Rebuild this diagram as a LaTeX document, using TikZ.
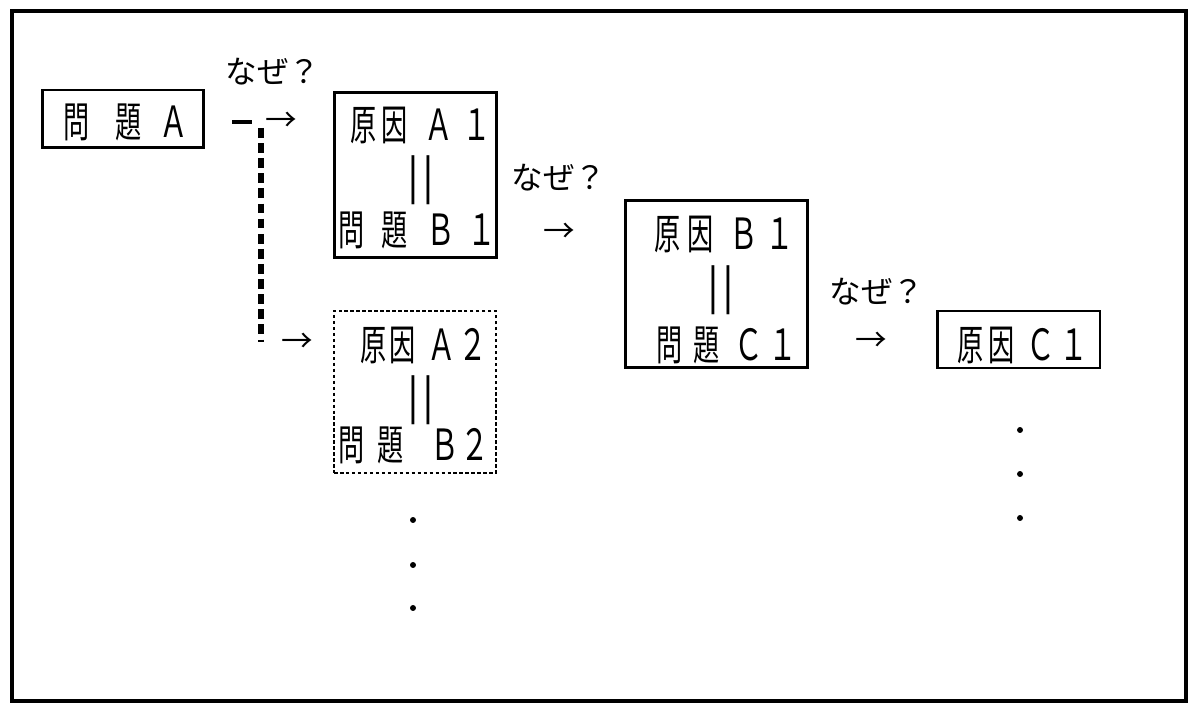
\documentclass[tikz,border=0pt]{standalone}
\usepackage{fontspec}
\usepackage{graphicx}
\newfontfamily\jpfont{Noto Sans CJK JP}

\newcommand\jl[1]{{\jpfont\fontsize{24}{24}\selectfont\scalebox{0.62}[1]{#1}}}
\newcommand\jn[1]{{\jpfont\fontsize{18}{18}\selectfont #1}}
\newcommand\g[1]{\hspace{#1em}}
\newcommand\wch[1]{\scalebox{1.1}[1.02]{#1}}
\newcommand\eqv{{\jpfont\fontsize{25}{25}\selectfont |\hspace{.06em}|}}

\begin{document}
\begin{tikzpicture}[x=0.02cm, y=-0.02cm,
    box/.style={draw, line width=1.7pt, inner sep=0},
    dotbox/.style={draw, line width=0.9pt, dash pattern=on 2pt off 1.4pt, inner sep=0},
    txt/.style={inner sep=0}]
    	\useasboundingbox (0,0) rectangle (1200,719);
    	% frame
    	\draw [line width=2.3pt] (12,11) rectangle (1186,701);

    	% problem A
    	\node[box, minimum width=3.24cm, minimum height=1.16cm] (pa) at (123,119) {};
    	\node[txt, anchor=base] (pat) at (126,138) {\jl{問\g{.98}題\g{.7}\wch{Ａ}}};

    	% why ? and the two arrows out of A
    	\node[txt] (naze1) at (273,72) {\jn{なぜ？}};
    	\coordinate (da) at (232,122);
    	\coordinate (db) at (252,122);
    	\draw [line width=2.6pt] (da) -- (db);
    	\node[txt] (ar1) at (281,122) {\jn{→}};
    	\coordinate (dc) at (261,128);
    	\coordinate (dd) at (261,342);
    	\draw [line width=3pt, dash pattern=on 5.6pt off 3pt] (dc) -- (dd);
    	\node[txt] (ar2) at (297,343) {\jn{→}};

    	% cause A1 = problem B1
    	\node[box, minimum width=3.26cm, minimum height=3.32cm] (a1) at (415.5,175) {};
    	\node[txt, anchor=base] (a1t) at (421,141) {\jl{原\g{.18}因\g{.65}\wch{Ａ}\g{.33}\wch{１}}};
    	\node[txt] (a1e) at (421,180) {\eqv};
    	\node[txt, anchor=base] (a1b) at (417,246) {\jl{問\g{.66}題\g{.7}\wch{Ｂ}\g{.47}\wch{１}}};

    	% cause A2 = problem B2 (dotted)
    	\node[dotbox, minimum width=3.24cm, minimum height=3.24cm] (a2) at (415,392) {};
    	\node[txt, anchor=base] (a2t) at (424,361) {\jl{原\g{.11}因\g{.44}\wch{Ａ}\g{.08}\wch{２}}};
    	\node[txt] (a2e) at (421,400) {\eqv};
    	\node[txt, anchor=base] (a2b) at (414,460) {\jl{問\g{.49}題\g{1}\wch{Ｂ}\g{.05}\wch{２}}};
    	% dots below A2
    	\foreach \y in {520,565,608} \fill (413,\y) circle (1.7pt);

    	% why ? to B1
    	\node[txt] (naze2) at (559,178) {\jn{なぜ？}};
    	\node[txt] (ar3) at (559,233) {\jn{→}};

    	% cause B1 = problem C1
    	\node[box, minimum width=3.66cm, minimum height=3.36cm] (b1) at (716.5,284) {};
    	\node[txt, anchor=base] (b1t) at (724,250) {\jl{原\g{.28}因\g{.59}\wch{Ｂ}\g{.27}\wch{１}}};
    	\node[txt] (b1e) at (721,290) {\eqv};
    	\node[txt, anchor=base] (b1b) at (727,361) {\jl{問\g{.41}題\g{.55}\wch{Ｃ}\g{.2}\wch{１}}};

    	% why ? to C1
    	\node[txt] (naze3) at (877,292) {\jn{なぜ？}};
    	\node[txt] (ar4) at (871,342) {\jn{→}};

    	% cause C1
    	\node[box, minimum width=3.26cm, minimum height=1.14cm] (c1) at (1018.5,339.5) {};
    	\node[txt, anchor=base] (c1t) at (1023,360) {\jl{原\g{.18}因\g{.44}\wch{Ｃ}\g{.16}\wch{１}}};
    	% dots below C1
    	\foreach \y in {430,474,518} \fill (1020,\y) circle (1.7pt);
\end{tikzpicture}
\end{document}
